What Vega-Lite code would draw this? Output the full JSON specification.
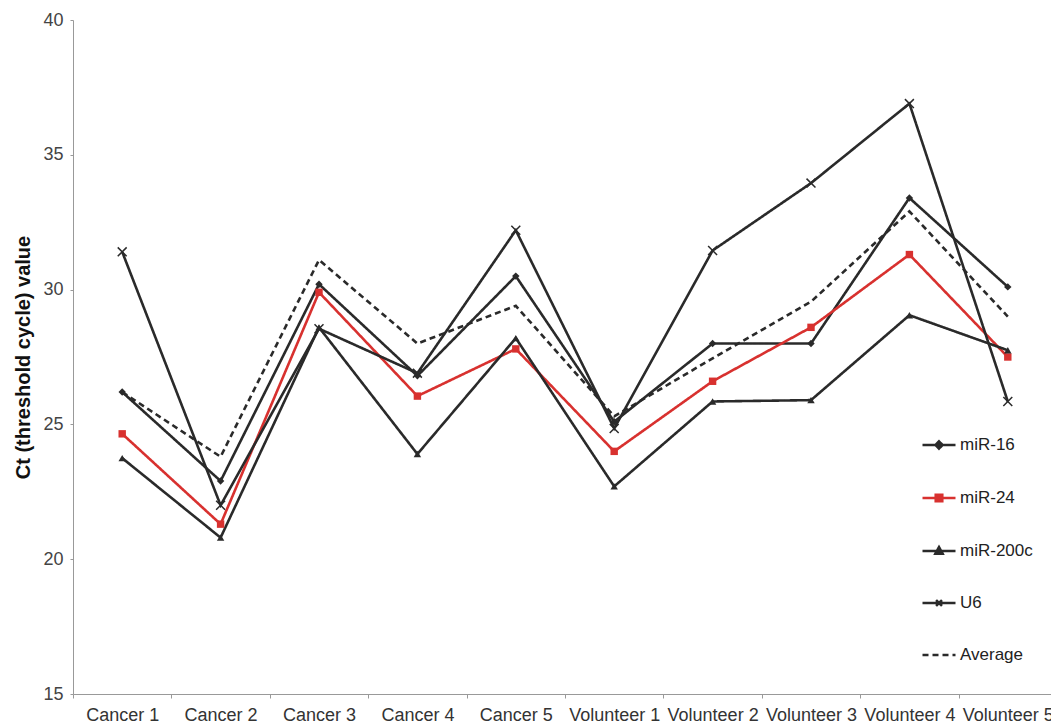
{
  "$schema": "https://vega.github.io/schema/vega-lite/v6.json",
  "width": 984,
  "height": 674,
  "autosize": {"type": "none"},
  "padding": {"left": 73, "top": 20, "right": 0, "bottom": 30},
  "background": "white",
  "config": {"view": {"stroke": null}, "font": "Liberation Sans"},
  "data": {"values": [
    {"sample": "Cancer 1", "series": "miR-16", "ct": 26.2},
    {"sample": "Cancer 2", "series": "miR-16", "ct": 22.9},
    {"sample": "Cancer 3", "series": "miR-16", "ct": 30.2},
    {"sample": "Cancer 4", "series": "miR-16", "ct": 26.8},
    {"sample": "Cancer 5", "series": "miR-16", "ct": 30.5},
    {"sample": "Volunteer 1", "series": "miR-16", "ct": 25.1},
    {"sample": "Volunteer 2", "series": "miR-16", "ct": 28.0},
    {"sample": "Volunteer 3", "series": "miR-16", "ct": 28.0},
    {"sample": "Volunteer 4", "series": "miR-16", "ct": 33.4},
    {"sample": "Volunteer 5", "series": "miR-16", "ct": 30.1},
    {"sample": "Cancer 1", "series": "miR-24", "ct": 24.65},
    {"sample": "Cancer 2", "series": "miR-24", "ct": 21.3},
    {"sample": "Cancer 3", "series": "miR-24", "ct": 29.9},
    {"sample": "Cancer 4", "series": "miR-24", "ct": 26.05},
    {"sample": "Cancer 5", "series": "miR-24", "ct": 27.8},
    {"sample": "Volunteer 1", "series": "miR-24", "ct": 24.0},
    {"sample": "Volunteer 2", "series": "miR-24", "ct": 26.6},
    {"sample": "Volunteer 3", "series": "miR-24", "ct": 28.6},
    {"sample": "Volunteer 4", "series": "miR-24", "ct": 31.3},
    {"sample": "Volunteer 5", "series": "miR-24", "ct": 27.5},
    {"sample": "Cancer 1", "series": "miR-200c", "ct": 23.75},
    {"sample": "Cancer 2", "series": "miR-200c", "ct": 20.8},
    {"sample": "Cancer 3", "series": "miR-200c", "ct": 28.6},
    {"sample": "Cancer 4", "series": "miR-200c", "ct": 23.9},
    {"sample": "Cancer 5", "series": "miR-200c", "ct": 28.2},
    {"sample": "Volunteer 1", "series": "miR-200c", "ct": 22.7},
    {"sample": "Volunteer 2", "series": "miR-200c", "ct": 25.85},
    {"sample": "Volunteer 3", "series": "miR-200c", "ct": 25.9},
    {"sample": "Volunteer 4", "series": "miR-200c", "ct": 29.05},
    {"sample": "Volunteer 5", "series": "miR-200c", "ct": 27.75},
    {"sample": "Cancer 1", "series": "U6", "ct": 31.4},
    {"sample": "Cancer 2", "series": "U6", "ct": 22.0},
    {"sample": "Cancer 3", "series": "U6", "ct": 28.55},
    {"sample": "Cancer 4", "series": "U6", "ct": 26.9},
    {"sample": "Cancer 5", "series": "U6", "ct": 32.2},
    {"sample": "Volunteer 1", "series": "U6", "ct": 24.85},
    {"sample": "Volunteer 2", "series": "U6", "ct": 31.45},
    {"sample": "Volunteer 3", "series": "U6", "ct": 33.95},
    {"sample": "Volunteer 4", "series": "U6", "ct": 36.9},
    {"sample": "Volunteer 5", "series": "U6", "ct": 25.85},
    {"sample": "Cancer 1", "series": "Average", "ct": 26.2},
    {"sample": "Cancer 2", "series": "Average", "ct": 23.8},
    {"sample": "Cancer 3", "series": "Average", "ct": 31.1},
    {"sample": "Cancer 4", "series": "Average", "ct": 28.0},
    {"sample": "Cancer 5", "series": "Average", "ct": 29.4},
    {"sample": "Volunteer 1", "series": "Average", "ct": 25.3},
    {"sample": "Volunteer 2", "series": "Average", "ct": 27.45},
    {"sample": "Volunteer 3", "series": "Average", "ct": 29.55},
    {"sample": "Volunteer 4", "series": "Average", "ct": 32.9},
    {"sample": "Volunteer 5", "series": "Average", "ct": 29.0}
  ]},
  "encoding": {
    "x": {
      "field": "sample", "type": "nominal",
      "sort": ["Cancer 1", "Cancer 2", "Cancer 3", "Cancer 4", "Cancer 5", "Volunteer 1", "Volunteer 2", "Volunteer 3", "Volunteer 4", "Volunteer 5"],
      "scale": {"type": "band", "paddingInner": 0, "paddingOuter": 0},
      "bandPosition": 0.5,
      "axis": {
        "title": null, "labelAngle": 0, "labelFontSize": 18, "labelColor": "#333",
        "domainColor": "#999", "tickColor": "#999", "tickSize": 4, "tickBand": "extent",
        "labelPadding": 8, "grid": false
      }
    },
    "y": {
      "field": "ct", "type": "quantitative",
      "scale": {"domain": [15, 40], "nice": false, "zero": false},
      "axis": {
        "title": "Ct (threshold cycle) value", "titleFontSize": 20, "titleFontWeight": "bold", "titleColor": "#111",
        "titlePadding": 9, "values": [15, 20, 25, 30, 35, 40], "labelFontSize": 18, "labelColor": "#444",
        "domainColor": "#999", "tickColor": "#999", "tickSize": 3, "labelPadding": 7, "grid": false
      }
    }
  },
  "layer": [
    {
      "mark": {"type": "line", "strokeWidth": 2.6},
      "encoding": {
        "color": {
          "field": "series", "type": "nominal",
          "scale": {"domain": ["miR-16", "miR-24", "miR-200c", "U6", "Average"], "range": ["#2a2a2a", "#d8312f", "#2a2a2a", "#2a2a2a", "#2a2a2a"]},
          "legend": {
            "title": null, "orient": "none", "legendX": 848, "legendY": 407, "padding": 0, "offset": 0,
            "symbolSize": 1089, "symbolStrokeWidth": 2.5, "rowPadding": 26, "labelFontSize": 17, "labelColor": "#222",
            "labelOffset": 3, "columns": 1,
            "encode": {
              "symbols": {
                "update": {
                  "shape": {"signal": "datum.value === 'miR-16' ? 'M-1,0H1M0,-0.22L0.22,0L0,0.22L-0.22,0Z' : datum.value === 'miR-24' ? 'M-1,0H1M-0.2,-0.2H0.2V0.2H-0.2Z' : datum.value === 'miR-200c' ? 'M-1,0H1M0,-0.24L0.22,0.16H-0.22Z' : datum.value === 'U6' ? 'M-1,0H1M-0.18,-0.18L0.18,0.18M-0.18,0.18L0.18,-0.18' : 'M-1,0H1'"},
                  "stroke": {"signal": "datum.value === 'miR-24' ? '#d8312f' : '#2a2a2a'"},
                  "fill": {"signal": "datum.value === 'miR-24' ? '#d8312f' : '#2a2a2a'"},
                  "strokeDash": {"signal": "datum.value === 'Average' ? [5, 3] : [1, 0]"},
                  "strokeWidth": {"value": 2.5},
                  "opacity": {"value": 1}
                }
              }
            }
          }
        },
        "strokeDash": {
          "field": "series", "type": "nominal",
          "scale": {"domain": ["miR-16", "miR-24", "miR-200c", "U6", "Average"], "range": [[1, 0], [1, 0], [1, 0], [1, 0], [6, 4]]},
          "legend": null
        }
      }
    },
    {
      "transform": [{"filter": "datum.series === 'miR-16' || datum.series === 'miR-24' || datum.series === 'miR-200c'"}],
      "mark": {"type": "point", "filled": true, "opacity": 1, "size": 55},
      "encoding": {
        "color": {"field": "series", "type": "nominal"},
        "shape": {
          "field": "series", "type": "nominal",
          "scale": {"domain": ["miR-16", "miR-24", "miR-200c"], "range": ["diamond", "square", "triangle-up"]},
          "legend": null
        }
      }
    },
    {
      "transform": [{"filter": "datum.series === 'U6'"}],
      "mark": {"type": "point", "filled": false, "opacity": 1, "size": 80, "stroke": "#2a2a2a", "strokeWidth": 1.5, "shape": "M-1,-1L1,1M-1,1L1,-1"},
      "encoding": {}
    }
  ]
}
